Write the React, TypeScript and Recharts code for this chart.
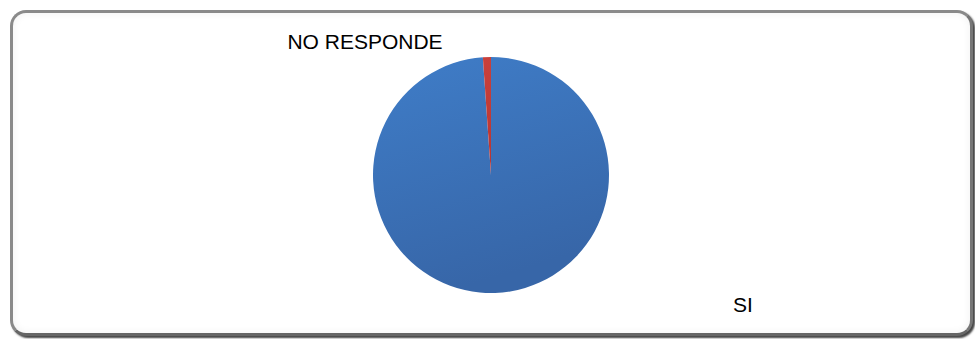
import React from 'react';
import { PieChart, Pie, Cell } from 'recharts';

const categories = ['SI', 'NO RESPONDE'];
const values = [98.9, 1.1];
const colors = ['url(#gBlue)', 'url(#gRed)'];

const data = categories.map((name, i) => ({ name, value: values[i] }));

const labelPos: Record<string, { x: number; y: number }> = {
  'SI': { x: 743, y: 304 },
  'NO RESPONDE': { x: 365, y: 41 },
};

const renderLabel = (props: any) => {
  const p = labelPos[props.name];
  if (!p) return null;
  return (
    <text
      x={p.x}
      y={p.y}
      textAnchor="middle"
      dominantBaseline="central"
      fontFamily="'Liberation Sans', Arial, sans-serif"
      fontSize={21}
      fill="#000"
    >
      {props.name}
    </text>
  );
};

export default function App() {
  return (
    <div style={{ position: 'absolute', left: 0, top: 0, width: 975, height: 339, background: '#fff' }}>
      <div
        style={{
          position: 'absolute',
          left: 10,
          top: 10,
          width: 957,
          height: 320,
          border: '3px solid #8a8a8a',
          borderRightColor: '#777',
          borderBottomColor: '#666',
          borderRadius: 16,
          boxShadow: '2px 2px 2px #444, inset 0 0 8px rgba(0,0,0,0.06)',
          background: '#fff',
        }}
      />
      <div style={{ position: 'absolute', left: 0, top: 0 }}>
        <PieChart width={975} height={339} margin={{ top: 0, right: 0, bottom: 0, left: 0 }}>
          <defs>
            <linearGradient id="gBlue" x1="0" y1="0" x2="0.3" y2="1">
              <stop offset="0%" stopColor="#3F7DC8" />
              <stop offset="100%" stopColor="#3766A8" />
            </linearGradient>
            <linearGradient id="gRed" x1="0" y1="0" x2="0" y2="1">
              <stop offset="0%" stopColor="#C9403B" />
              <stop offset="100%" stopColor="#B83532" />
            </linearGradient>
          </defs>
          <Pie
            data={data}
            dataKey="value"
            nameKey="name"
            cx={491}
            cy={175}
            outerRadius={118}
            startAngle={90}
            endAngle={-270}
            stroke="none"
            label={renderLabel}
            labelLine={false}
            isAnimationActive={false}
          >
            {data.map((d, i) => (
              <Cell key={d.name} fill={colors[i]} />
            ))}
          </Pie>
        </PieChart>
      </div>
    </div>
  );
}
